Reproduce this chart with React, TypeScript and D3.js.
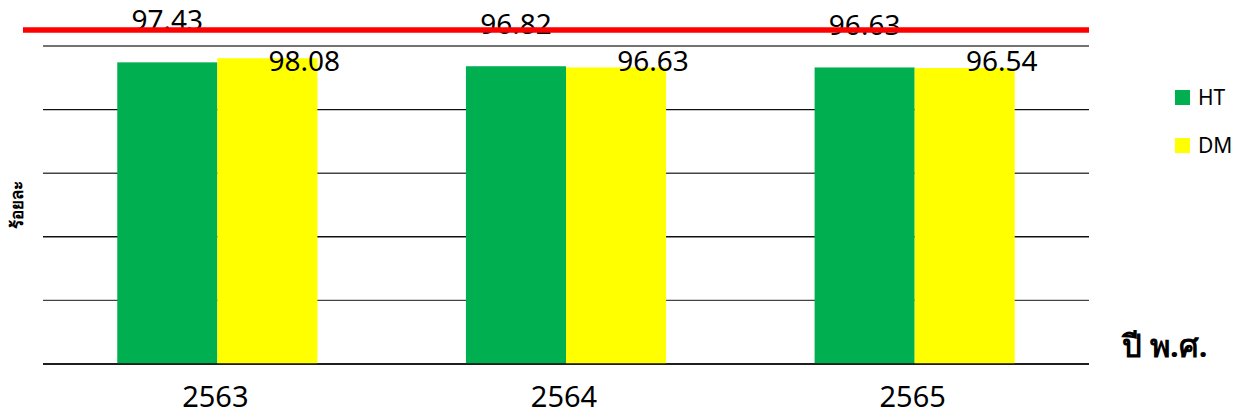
import React from "react";
import * as d3 from "d3";

// Survey years (Thai Buddhist Era)
const years = ["2563", "2564", "2565"];
// Series shown in the legend
const seriesNames = ["HT", "DM"];
// Percentages per year
const htValues = [97.43, 96.82, 96.63];
const dmValues = [98.08, 96.63, 96.54];
// Value axis ticks (gridlines)
const yTicks = [50, 60, 70, 80, 90, 100];
// Level of the red reference line
const targetLevel = 102.5;

const W = 1238;
const H = 415;
const colors: Record<string, string> = { HT: "#00B050", DM: "#FFFF00" };
const FONT = "'Noto Sans', 'Open Sans', sans-serif";

export default function App() {
  const plotLeft = 43;
  const plotRight = 1089;
  const plotTop = 46;
  const plotBottom = 364;

  const x = d3.scaleBand<string>().domain(years).range([plotLeft, plotRight]).padding(0);
  const groupW = x.bandwidth() * 0.574;
  const inner = d3.scaleBand<string>().domain(seriesNames).range([0, groupW]).padding(0);
  const y = d3.scaleLinear().domain([50, 100]).range([plotBottom, plotTop]);

  const rows = years.map((yr, i) => ({ year: yr, HT: htValues[i], DM: dmValues[i] }));

  return (
    <svg
      width={W}
      height={H}
      viewBox={`0 0 ${W} ${H}`}
      style={{ position: "absolute", left: 0, top: 0, display: "block", background: "#fff" }}
      fontFamily={FONT}
    >
      {/* gridlines */}
      {yTicks.map((t, i) => (
        <line
          key={t}
          x1={plotLeft}
          x2={plotRight}
          y1={y(t)}
          y2={y(t)}
          stroke={i % 2 === 0 ? "#111" : "#444"}
          strokeWidth={1.4}
        />
      ))}

      {/* bars */}
      {rows.map((r) => {
        const gx = (x(r.year) as number) + (x.bandwidth() - groupW) / 2;
        return (
          <g key={r.year} transform={`translate(${gx},0)`}>
            {seriesNames.map((s) => {
              const v = (r as any)[s] as number;
              return (
                <rect
                  key={s}
                  x={inner(s) as number}
                  y={y(v)}
                  width={inner.bandwidth()}
                  height={y(50) - y(v)}
                  fill={colors[s]}
                />
              );
            })}
          </g>
        );
      })}

      {/* baseline */}
      <line x1={plotLeft} x2={plotRight} y1={y(50)} y2={y(50)} stroke="#111" strokeWidth={1.4} />

      {/* value labels */}
      {rows.map((r) => {
        const gx = (x(r.year) as number) + (x.bandwidth() - groupW) / 2;
        const htX = gx + (inner("HT") as number) + inner.bandwidth() / 2;
        const dmX = gx + (inner("DM") as number) + inner.bandwidth() / 2 + 37;
        return (
          <g key={r.year} fontSize={28} fill="#000">
            <text x={htX} y={y(r.HT) - 32} textAnchor="middle">
              {r.HT.toFixed(2)}
            </text>
            <text x={dmX} y={y(100) + 25} textAnchor="middle">
              {r.DM.toFixed(2)}
            </text>
          </g>
        );
      })}

      {/* red reference line */}
      <line x1={23} x2={plotRight} y1={y(targetLevel)} y2={y(targetLevel)} stroke="#FF0000" strokeWidth={5.5} />

      {/* category labels */}
      {years.map((yr) => (
        <text
          key={yr}
          x={(x(yr) as number) + x.bandwidth() / 2 - 2}
          y={407}
          textAnchor="middle"
          fontSize={29}
          fill="#000"
        >
          {yr}
        </text>
      ))}

      {/* axis titles */}
      <text
        transform={`translate(23,205) rotate(-90)`}
        textAnchor="middle"
        fontSize={17}
        fontWeight="bold"
        fill="#000"
      >
        ร้อยละ
      </text>
      <text x={1122} y={357} fontSize={31} fontWeight="bold" fill="#000">
        ปี พ.ศ.
      </text>

      {/* legend */}
      {seriesNames.map((s, i) => (
        <g key={s} transform={`translate(1175,${90 + i * 48})`}>
          <rect x={0} y={0} width={15} height={15} fill={colors[s]} />
          <text x={23} y={15} fontSize={21} fill="#000">
            {s}
          </text>
        </g>
      ))}
    </svg>
  );
}
